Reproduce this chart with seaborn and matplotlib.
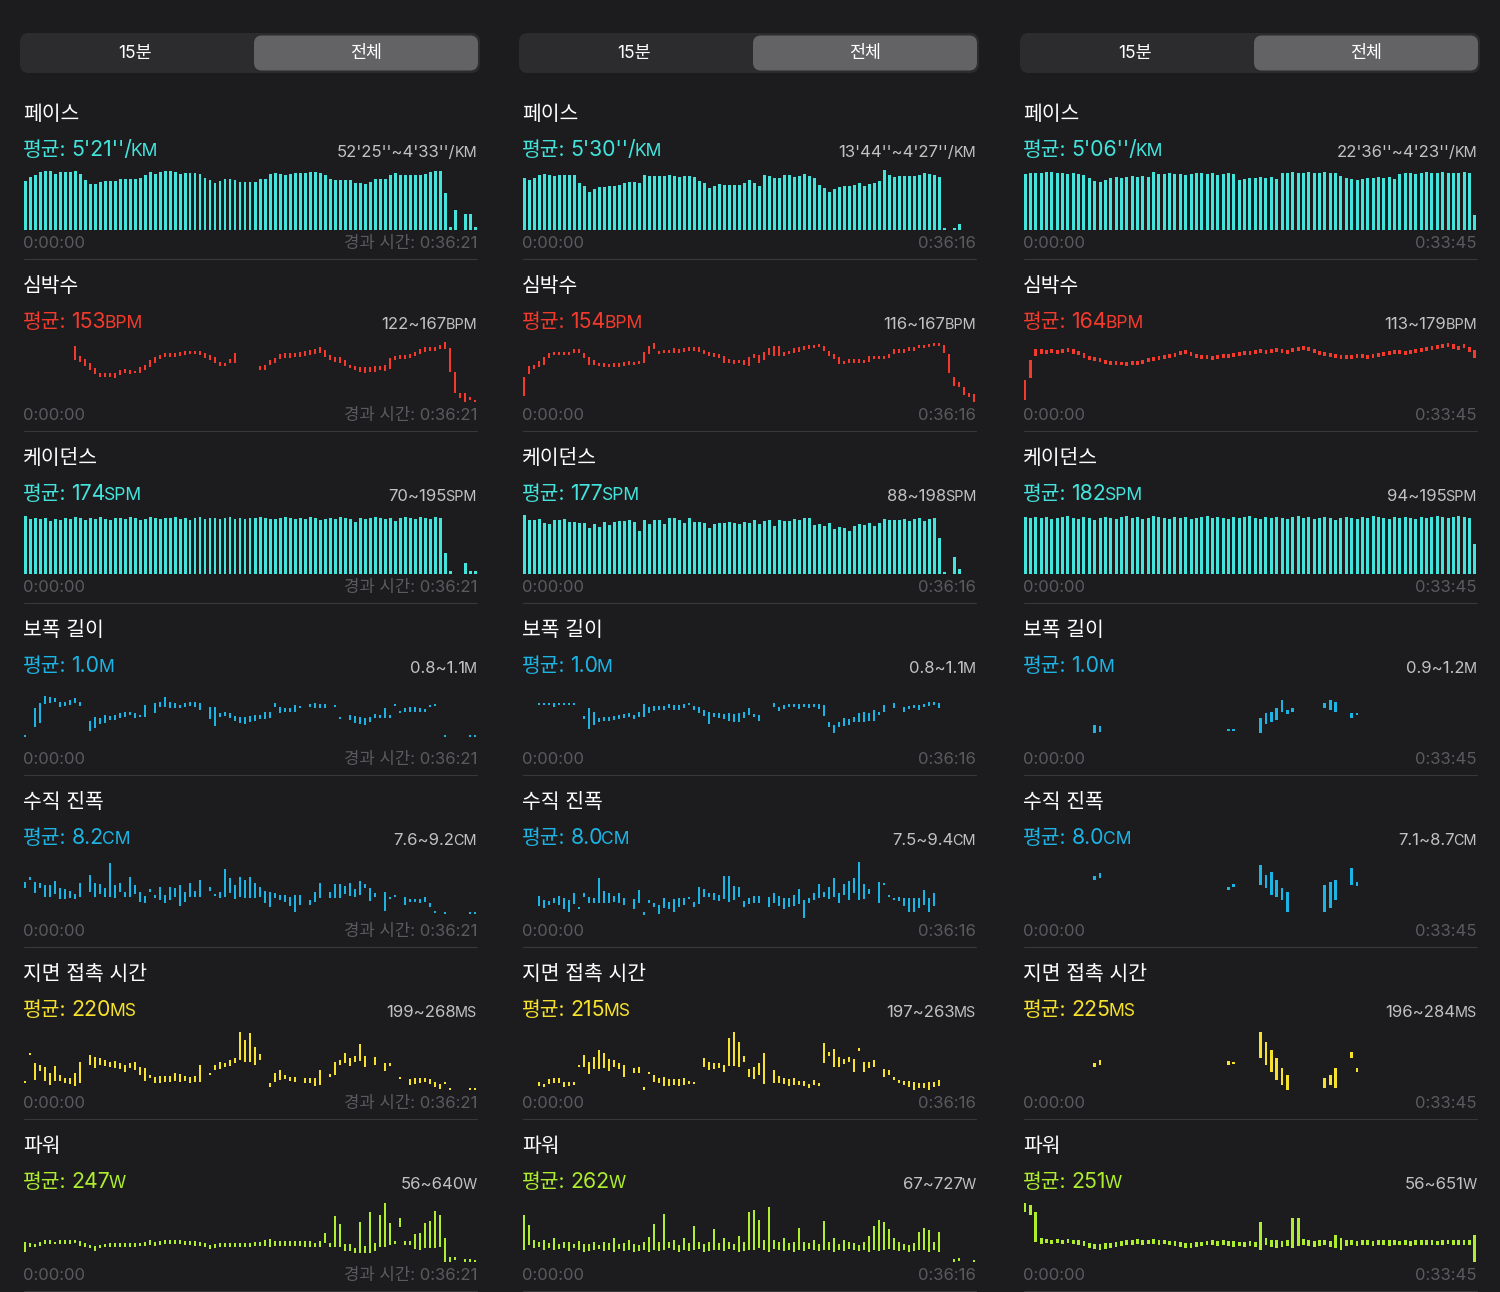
import matplotlib
matplotlib.use("Agg")
import matplotlib.pyplot as plt
import pandas as pd
import seaborn as sns
from matplotlib.patches import FancyBboxPatch

# ---------------- data (bar heights / ranges, relative chart units, 0 = baseline) -------------
METRICS = ["페이스", "심박수", "케이던스", "보폭 길이", "수직 진폭", "지면 접촉 시간", "파워"]
UNITS = ["KM", "BPM", "SPM", "M", "CM", "MS", "W"]
AVG_1 = ["5'21''/", "153", "174", "1.0", "8.2", "220", "247"]
AVG_2 = ["5'30''/", "154", "177", "1.0", "8.0", "215", "262"]
AVG_3 = ["5'06''/", "164", "182", "1.0", "8.0", "225", "251"]
RANGE_1 = ["52'25''~4'33''/", "122~167", "70~195", "0.8~1.1", "7.6~9.2", "199~268", "56~640"]
RANGE_2 = ["13'44''~4'27''/", "116~167", "88~198", "0.8~1.1", "7.5~9.4", "197~263", "67~727"]
RANGE_3 = ["22'36''~4'23''/", "113~179", "94~195", "0.9~1.2", "7.1~8.7", "196~284", "56~651"]
END_LABELS = ["경과 시간: 0:36:21", "0:36:16", "0:33:45"]
START_LABEL = "0:00:00"
AVG_LABEL = "평균:"
TABS = ["15분", "전체"]
N_SLOTS = [91, 91, 85]

PACE_1 = [49,53,55,58,59,59,56,58,58,58, 59,56,50,46,46,48,49,49,49,51, 51,51,51,52,55,58,56,58,59,59,
          58,56,57,57,57,56,52,50,47,49, 51,51,50,48,48,48,48,51,51,56, 57,56,55,56,57,57,57,58,58,57,
          55,51,50,50,50,50,47,47,46,48, 51,51,51,55,57,55,55,55,55,55, 56,58,59,59,37,3,20,None,16,16,3]
PACE_2 = [52,50,52,55,56,55,54,55,55,55, 55,47,44,38,41,43,43,44,44,45, 47,48,48,47,55,54,54,54,54,55,
          54,53,54,54,53,49,47,42,44,46, 45,45,45,45,47,50,47,44,55,54, 52,52,55,55,53,54,56,54,52,45,
          42,38,41,43,44,44,45,47,44,46, 47,49,60,55,53,54,54,54,54,55, 57,56,55,53,2,None,2,6]
PACE_3 = [56,57,57,57,58,58,57,57,56,57, 56,55,52,49,48,50,52,53,52,53, 54,53,54,53,58,56,56,57,56,56,
          55,56,57,57,56,57,55,56,57,56, 50,51,52,52,53,52,53,51,57,57, 58,57,57,58,57,57,58,57,57,54,
          52,51,50,51,52,52,53,52,53,51, 56,57,57,56,57,58,57,57,58,57, 57,57,58,57,15]

CAD_1 = [58,55,56,55,56,53,55,54,56,55, 57,56,54,56,55,57,55,54,56,56, 55,57,56,54,55,57,56,55,56,56,
         57,55,56,54,56,57,55,56,56,55, 56,57,55,56,55,56,56,57,56,55, 55,56,57,56,55,56,55,57,56,54,
         55,56,55,57,56,55,52,56,55,56, 57,56,55,56,53,56,57,56,55,57, 56,55,57,56,21,3,None,None,11,3,3]
CAD_2 = [59,54,54,55,51,50,54,54,55,52, 52,51,51,46,50,47,52,49,52,53, 53,54,52,43,54,50,54,54,50,56,
         56,54,51,56,52,52,51,46,50,51, 51,52,51,50,52,51,54,50,53,54, 48,54,53,53,55,54,56,56,49,50,
         48,51,45,47,46,43,48,50,49,51, 48,51,55,54,54,54,55,53,55,56, 53,55,56,36,2,None,17,5]
CAD_3 = [57,56,57,56,57,55,56,57,58,56, 55,57,56,54,56,57,56,55,57,58, 56,57,55,56,58,57,56,55,57,56,
         57,55,56,57,58,56,57,56,55,57, 56,57,58,56,55,57,56,57,56,55, 57,58,56,57,55,56,57,56,54,56,
         57,56,55,57,56,58,57,56,55,57, 56,57,56,55,57,56,57,58,57,56, 57,58,57,56,30]

# range bars: (slot, low, high)
HR_1 = [(10,42,56),(11,40,46),(12,36,43),(13,32,39),(14,28,34),(15,25,29),(16,25,29),(17,25,29),(18,24,29),
        (19,27,32),(20,29,33),(21,28,32),(22,29,31),(23,29,35),(24,32,37),(25,35,42),(26,39,45),(27,43,47),
        (28,45,49),(29,45,49),(30,45,49),(31,46,50),(32,47,51),(33,48,51),(34,48,51),(35,47,51),(36,44,49),
        (37,42,47),(38,39,45),(39,36,40),(40,36,39),(41,39,43),(42,39,49),
        (47,32,36),(48,32,37),(49,37,42),(50,39,44),(51,43,48),(52,44,49),(53,44,49),(54,45,49),(55,45,50),
        (56,46,51),(57,47,52),(58,48,53),(59,49,55),(60,45,52),(61,42,47),(62,40,45),(63,39,45),(64,36,42),
        (65,34,37),(66,32,36),(67,30,35),(68,29,35),(69,30,35),(70,30,36),(71,32,36),(72,31,37),(73,33,44),
        (74,42,46),(75,43,47),(76,43,47),(77,44,48),(78,46,50),(79,48,53),(80,50,55),(81,51,55),(82,51,55),
        (83,53,57),(84,53,60),(85,30,54),(86,9,30),(87,4,9),(88,0,9),(89,2,5),(90,0,2)]
HR_2 = [(0,6,25),(1,28,36),(2,33,37),(3,35,41),(4,37,45),(5,44,49),(6,47,50),(7,47,50),(8,47,50),(9,47,50),
        (10,49,53),(11,49,53),(12,44,49),(13,37,45),(14,37,42),(15,36,39),(16,35,39),(17,35,38),(18,35,39),
        (19,35,39),(20,36,40),(21,37,41),(22,37,40),(23,38,41),(24,39,50),(25,48,56),(26,53,59),(27,48,51),
        (28,49,52),(29,49,52),(30,49,54),(31,49,53),(32,50,54),(33,51,55),(34,51,55),(35,50,55),(36,48,52),
        (37,46,50),(38,45,49),(39,44,48),(40,39,46),(41,39,43),(42,38,42),(43,39,42),(44,37,42),(45,36,45),
        (46,44,48),(47,39,47),(48,42,50),(49,47,54),(50,46,56),(51,46,56),(52,46,50),(53,48,51),(54,49,54),
        (55,50,55),(56,52,56),(57,53,57),(58,54,57),(59,55,58),(60,51,56),(61,46,51),(62,43,48),(63,38,45),
        (64,38,41),(65,39,43),(66,39,43),(67,39,43),(68,39,42),(69,40,46),(70,43,46),(71,43,46),(72,43,46),
        (73,44,48),(74,48,53),(75,49,53),(76,49,53),(77,51,55),(78,51,55),(79,54,57),(80,54,57),(81,55,58),
        (82,56,59),(83,56,59),(84,49,57),(85,29,48),(86,16,25),(87,15,20),(88,7,15),(89,5,9),(90,0,8)]
HR_3 = [(0,2,22),(1,24,42),(2,46,53),(3,48,53),(4,48,52),(5,49,53),(6,48,52),(7,49,53),(8,50,54),(9,48,53),
        (10,47,51),(11,44,49),(12,42,46),(13,41,45),(14,40,44),(15,38,42),(16,37,41),(17,37,41),(18,37,40),
        (19,36,40),(20,37,41),(21,37,41),(22,38,42),(23,40,44),(24,41,45),(25,42,46),(26,43,47),(27,44,48),
        (28,45,49),(29,47,51),(30,48,52),(31,46,50),(32,44,48),(33,43,47),(34,43,47),(35,42,46),(36,43,47),
        (37,44,48),(38,44,48),(39,45,49),(40,46,50),(41,47,51),(42,47,51),(43,48,52),(44,49,53),(45,48,52),
        (46,49,53),(47,50,54),(48,49,53),(49,48,52),(50,50,54),(51,51,55),(52,52,56),(53,51,55),(54,49,53),
        (55,47,51),(56,46,50),(57,45,49),(58,44,48),(59,43,47),(60,43,47),(61,43,47),(62,44,48),(63,44,48),
        (64,43,47),(65,44,48),(66,45,49),(67,46,50),(68,47,51),(69,48,52),(70,48,52),(71,47,51),(72,48,52),
        (73,49,53),(74,50,54),(75,51,55),(76,52,56),(77,53,57),(78,54,58),(79,55,59),(80,53,58),(81,52,56),
        (82,54,58),(83,50,55),(84,44,52)]

STRIDE_1 = [(0,9,11),(2,19,38),(3,23,43),(4,42,50),(5,43,49),(6,44,48),(7,39,44),(8,40,44),(9,41,46),(10,43,48),
            (11,40,44),(13,15,25),(14,18,29),(15,22,28),(16,23,31),(17,26,30),(18,26,31),(19,28,33),(20,29,34),
            (21,31,34),(22,28,33),(23,29,31),(24,29,41),(26,33,43),(27,39,44),(28,39,49),(29,38,44),(30,38,43),
            (31,38,41),(32,39,43),(33,40,44),(34,39,44),(35,36,43),(37,27,39),(38,20,39),(39,29,33),(40,30,34),
            (41,28,33),(42,25,30),(43,23,29),(44,22,29),(45,24,30),(46,25,31),(47,27,31),(48,27,34),(49,28,34),
            (50,39,43),(51,33,39),(52,34,38),(53,34,38),(54,34,41),(55,38,40),(57,39,42),(58,38,43),(59,38,42),
            (60,38,42),(62,39,41),(63,27,29),(65,26,31),(66,23,30),(67,22,29),(68,21,28),(69,24,29),(70,28,32),
            (71,28,31),(72,28,38),(73,28,31),(74,40,42),(75,33,35),(76,34,38),(77,34,39),(78,34,39),(79,34,38),
            (80,34,37),(81,39,41),(82,40,42),(84,9,11),(89,9,11),(90,9,11)]
STRIDE_2 = [(3,41,43),(4,41,43),(5,41,43),(6,39,43),(7,41,43),(8,41,43),(9,41,43),(10,41,43),(12,27,30),(13,17,38),
            (14,21,34),(15,24,28),(16,25,29),(17,25,29),(18,26,30),(19,27,31),(20,28,32),(21,29,33),(22,27,31),
            (23,29,34),(24,29,42),(25,33,39),(26,35,40),(27,36,40),(28,36,40),(29,38,42),(30,36,41),(31,36,41),
            (32,38,42),(33,41,43),(34,36,40),(35,33,39),(36,30,36),(37,22,34),(38,29,33),(39,28,33),(40,27,32),
            (41,25,33),(42,24,32),(43,24,33),(44,28,34),(45,31,38),(46,29,32),(47,25,31),(50,39,43),(51,35,39),
            (52,37,41),(53,39,42),(54,39,42),(55,37,42),(56,39,42),(57,38,42),(58,39,42),(59,37,42),(60,30,41),
            (61,19,24),(62,13,21),(63,19,24),(64,20,28),(65,21,27),(66,24,29),(67,24,33),(68,24,34),(69,25,33),
            (70,25,36),(71,31,34),(72,34,41),(74,38,43),(76,34,39),(77,37,40),(78,38,41),(79,36,41),(80,39,42),
            (81,40,44),(82,41,44),(83,38,43)]
STRIDE_3 = [(13,13,21),(14,14,20),(38,15,17),(39,15,17),(44,13,28),(45,22,33),(46,24,34),(47,26,38),(48,34,46),
            (49,32,36),(50,34,38),(56,38,43),(57,36,46),(58,34,44),(61,28,33),(62,31,33)]

VERT_1 = [(0,30,36),(1,38,41),(2,25,36),(3,30,35),(4,21,33),(5,21,33),(6,24,37),(7,19,30),(8,19,29),(9,20,27),
          (10,19,24),(11,21,35),(13,26,43),(14,21,35),(15,24,34),(16,21,30),(17,21,55),(18,20,33),(19,26,35),
          (20,21,26),(21,21,41),(22,24,33),(23,16,26),(24,15,22),(25,26,29),(26,20,23),(27,18,31),(28,15,23),
          (29,18,31),(30,21,30),(31,12,33),(32,16,26),(33,21,35),(34,21,27),(35,21,38),(37,27,31),(38,22,24),
          (39,20,26),(40,21,49),(41,25,40),(42,19,33),(43,21,41),(44,20,38),(45,20,41),(46,20,35),(47,21,31),
          (48,15,27),(49,11,26),(50,20,25),(51,18,23),(52,16,23),(53,12,21),(54,6,23),(55,13,23),(57,13,18),
          (58,16,26),(59,20,35),(61,20,26),(62,20,34),(63,20,34),(64,24,32),(65,22,35),(66,21,29),(67,23,37),
          (68,30,34),(69,17,30),(70,21,25),(72,7,26),(73,19,21),(74,21,22),(76,13,21),(77,16,19),(78,16,19),
          (79,15,19),(80,16,21),(81,11,15),(82,5,7),(84,4,6),(89,4,6),(90,4,6)]
VERT_2 = [(3,12,22),(4,10,18),(5,13,17),(6,15,20),(7,13,22),(8,9,20),(9,6,18),(10,14,25),(11,9,11),(12,21,25),
          (13,15,21),(14,15,20),(15,15,40),(16,15,27),(17,15,25),(18,16,22),(19,15,25),(20,13,20),(22,9,19),
          (23,15,28),(24,3,6),(25,15,18),(26,11,15),(27,4,13),(28,10,20),(29,9,16),(30,6,19),(31,11,20),
          (32,13,20),(33,19,21),(34,11,16),(35,14,31),(36,21,29),(37,21,25),(38,18,25),(39,17,23),(40,19,42),
          (41,16,42),(42,18,32),(43,21,31),(44,11,17),(45,14,20),(46,15,22),(47,15,22),(49,11,21),(50,15,25),
          (51,12,22),(52,9,20),(53,11,20),(54,12,23),(55,14,29),(56,0,18),(57,15,20),(58,18,25),(59,20,34),
          (60,21,26),(61,19,31),(62,21,40),(63,15,25),(64,23,34),(65,18,37),(66,25,40),(67,18,56),(68,19,34),
          (69,24,29),(71,15,36),(72,33,35),(73,21,22),(74,18,20),(75,17,21),(76,12,20),(77,6,20),(78,6,20),
          (79,10,20),(80,13,28),(81,6,20),(82,12,25)]
VERT_3 = [(13,38,42),(14,40,45),(38,28,31),(39,31,34),(44,33,53),(45,30,43),(46,23,46),(47,21,38),(48,18,30),
          (49,6,26),(56,6,33),(57,10,36),(58,18,38),(61,33,50),(62,32,36)]

GCT_1 = [(0,7,9),(1,35,37),(2,10,27),(3,19,25),(4,9,23),(5,5,17),(6,9,24),(7,9,15),(8,7,12),(9,6,12),(10,4,17),
         (11,7,28),(13,25,35),(14,22,33),(15,25,32),(16,24,30),(17,23,28),(18,22,29),(19,21,27),(20,18,25),
         (21,22,27),(22,20,28),(23,15,23),(24,9,22),(25,12,15),(26,7,13),(27,7,14),(28,8,14),(29,8,14),
         (30,9,17),(31,8,16),(32,9,14),(33,7,13),(34,8,14),(35,8,25),(37,15,17),(38,20,25),(39,21,28),
         (40,23,27),(41,24,30),(42,27,32),(43,30,58),(44,28,50),(45,28,57),(46,25,43),(47,30,36),(49,3,7),
         (50,8,17),(51,10,20),(52,11,15),(53,9,13),(54,8,13),(56,7,12),(57,7,12),(58,4,12),(59,5,20),
         (61,13,16),(62,15,28),(63,25,30),(64,27,37),(65,24,32),(66,28,34),(67,29,46),(68,23,34),(70,25,33),
         (72,19,27),(73,24,27),(75,11,13),(77,5,11),(78,6,12),(79,7,12),(80,8,12),(81,6,11),(82,3,8),
         (83,1,6),(84,6,8),(85,0,2),(89,0,2),(90,0,2)]
GCT_2 = [(3,4,8),(4,3,6),(5,6,11),(6,7,12),(7,7,12),(8,3,8),(9,4,8),(10,5,8),(11,23,25),(12,23,35),(13,16,28),
         (14,21,33),(15,21,40),(16,22,37),(17,19,31),(18,23,30),(19,21,27),(20,13,25),(22,17,22),(23,17,23),
         (24,0,3),(25,16,18),(26,8,15),(27,7,12),(28,4,13),(29,4,11),(30,5,11),(31,4,11),(32,5,12),(33,6,9),
         (34,6,8),(36,23,32),(37,20,28),(38,21,27),(39,22,27),(40,18,25),(41,24,52),(42,24,58),(43,23,48),
         (44,28,34),(45,13,21),(46,11,23),(47,15,27),(48,6,37),(50,7,20),(51,7,14),(52,6,12),(53,4,11),
         (54,5,12),(55,5,9),(56,4,9),(57,2,6),(58,5,10),(59,4,7),(60,27,47),(61,34,38),(62,23,41),(63,23,33),
         (64,26,31),(65,28,33),(66,18,31),(67,39,42),(68,18,28),(69,22,28),(70,23,30),(72,13,21),(73,15,20),
         (74,10,13),(75,7,10),(76,5,9),(77,3,9),(78,0,8),(79,2,7),(80,2,7),(81,0,8),(82,3,8),(83,4,10)]
GCT_3 = [(13,23,27),(14,25,30),(38,25,29),(39,26,28),(44,32,58),(45,25,48),(46,18,40),(47,10,32),(48,5,22),
         (49,0,15),(56,2,12),(57,5,15),(58,2,22),(61,32,38),(62,18,22)]

POWER_1 = [(0,10,20),(1,15,19),(2,15,18),(3,16,20),(4,18,22),(5,18,22),(6,18,20),(7,18,22),(8,18,22),(9,18,22),
           (10,19,22),(11,16,21),(12,15,19),(13,14,17),(14,11,16),(15,14,17),(16,15,18),(17,15,19),(18,15,19),
           (19,15,19),(20,15,19),(21,15,19),(22,15,19),(23,16,19),(24,16,20),(25,17,22),(26,16,20),(27,17,21),
           (28,18,22),(29,18,22),(30,18,22),(31,18,22),(32,17,21),(33,17,21),(34,16,21),(35,16,20),(36,15,19),
           (37,13,17),(38,14,18),(39,15,19),(40,15,19),(41,15,19),(42,15,19),(43,15,19),(44,15,19),(45,15,19),
           (46,16,20),(47,16,20),(48,16,22),(49,15,23),(50,16,21),(51,16,21),(52,16,21),(53,16,21),(54,16,21),
           (55,16,21),(56,15,21),(57,15,21),(58,15,19),(59,15,21),(60,19,29),(61,15,19),(62,15,46),(63,15,38),
           (64,11,18),(65,11,18),(66,9,14),(67,9,40),(68,9,16),(69,9,50),(70,11,19),(71,15,47),(72,15,59),
           (73,17,39),(74,18,21),(75,35,44),(76,17,21),(77,17,21),(78,13,28),(79,12,29),(80,14,39),(81,14,41),
           (82,14,51),(83,15,47),(84,0,24),(85,0,5),(86,2,5),(88,0,3),(89,0,3),(90,0,2)]
POWER_2 = [(0,12,47),(1,17,37),(2,14,22),(3,15,20),(4,12,22),(5,14,19),(6,12,24),(7,13,18),(8,14,20),(9,11,20),
           (10,14,18),(11,12,21),(12,10,18),(13,11,18),(14,12,20),(15,13,17),(16,11,20),(17,12,19),(18,10,24),
           (19,13,18),(20,11,19),(21,12,22),(22,10,18),(23,11,17),(24,12,20),(25,10,25),(26,12,38),(27,11,20),
           (28,12,48),(29,14,20),(30,12,22),(31,10,17),(32,12,24),(33,11,19),(34,12,36),(35,13,20),(36,10,18),
           (37,11,20),(38,12,33),(39,12,19),(40,11,24),(41,13,20),(42,12,18),(43,10,26),(44,11,20),(45,12,50),
           (46,12,52),(47,14,42),(48,12,22),(49,10,55),(50,13,22),(51,12,20),(52,11,24),(53,12,19),(54,10,20),
           (55,12,34),(56,11,20),(57,13,19),(58,12,22),(59,11,18),(60,12,41),(61,12,20),(62,10,24),(63,12,18),
           (64,11,22),(65,13,20),(66,12,19),(67,11,17),(68,12,20),(69,10,26),(70,12,36),(71,11,42),(72,12,40),
           (73,13,33),(74,12,24),(75,11,20),(76,12,18),(77,10,17),(78,11,19),(79,12,30),(80,12,34),(81,10,32),
           (82,12,20),(83,10,30),(86,0,3),(87,1,4),(90,0,2)]
POWER_3 = [(0,50,59),(1,47,57),(2,20,50),(3,18,24),(4,19,23),(5,18,22),(6,19,23),(7,18,22),(8,19,23),(9,18,22),
           (10,17,22),(11,16,21),(12,14,19),(13,13,18),(14,12,18),(15,13,19),(16,14,19),(17,15,20),(18,16,21),
           (19,17,22),(20,17,22),(21,18,23),(22,17,22),(23,18,22),(24,18,23),(25,17,22),(26,18,22),(27,17,21),
           (28,16,21),(29,15,20),(30,14,19),(31,14,19),(32,15,20),(33,16,20),(34,17,21),(35,17,22),(36,16,21),
           (37,17,22),(38,16,21),(39,15,21),(40,16,20),(41,15,20),(42,16,21),(43,15,20),(44,12,40),(45,17,24),
           (46,15,22),(47,14,22),(48,15,21),(49,16,22),(50,14,44),(51,16,44),(52,17,23),(53,16,22),(54,15,21),
           (55,16,22),(56,17,22),(57,15,21),(58,14,27),(59,12,24),(60,16,22),(61,17,22),(62,16,21),(63,17,22),
           (64,17,22),(65,16,21),(66,17,22),(67,17,22),(68,16,22),(69,17,22),(70,17,21),(71,17,22),(72,16,21),
           (73,17,22),(74,17,22),(75,17,22),(76,17,22),(77,17,21),(78,17,22),(79,18,22),(80,17,22),(81,17,22),
           (82,17,22),(83,17,22),(84,0,27)]

# ---------------- style -------------------------------------------------------------------------
W, H = 1500, 1292
BG = "#1c1c1e"
SEG_BG = "#2c2c2e"
SEG_SEL = "#636366"
SEP = "#38383a"
GRAY = "#5b5b5f"
RANGE_GRAY = "#c2c2c4"
CYAN = "#42e4dc"
RED = "#f43a2c"
BLUE = "#1cb4e4"
YELLOW = "#f6e22c"
LIME = "#aeee2e"
ROW_COLORS = [CYAN, RED, CYAN, BLUE, BLUE, YELLOW, LIME]
COL_OFF = [0, 499, 1000]
ROW_H = 172
CHART_W = 454

sns.set_theme(style="dark", rc={"axes.facecolor": BG, "figure.facecolor": BG})
plt.rcParams["font.family"] = ["Inter", "Noto Sans CJK KR", "DejaVu Sans"]

fig = plt.figure(figsize=(W / 100, H / 100), dpi=100)
fig.patch.set_facecolor(BG)
base = fig.add_axes([0, 0, 1, 1])
base.set_xlim(0, W)
base.set_ylim(H, 0)
base.set_axis_off()
renderer = fig.canvas.get_renderer()


def rich(parts, x, y, halign, gaps):
    """Draw consecutive text pieces on one baseline; halign 0 = left from x, 1 = right ending at x.
    gaps[k] = extra pixels inserted after piece k (in drawing order)."""
    cx = x
    seq = parts if halign == 0 else list(reversed(parts))
    for k, (t, c, s) in enumerate(seq):
        tx = base.text(cx, y, t, ha="left" if halign == 0 else "right", va="baseline",
                       color=c, fontsize=s)
        wpx = tx.get_window_extent(renderer).width
        if halign == 0:
            cx += wpx + gaps[k]
        else:
            cx -= wpx + gaps[k]


def finish(ax, n):
    ax.set_xlim(-0.2, n - 0.4)
    ax.set_ylim(0, 64)
    ax.set_axis_off()
    ax.patch.set_alpha(0)
    for p in ax.patches:
        p.set_clip_on(False)
        p.set_snap(True)


def draw_heights(ax, heights, color, n):
    ppu = CHART_W / (n - 0.2)
    df = pd.DataFrame({"slot": range(len(heights)), "h": heights}).dropna()
    df["h"] = df["h"].clip(lower=1.8)
    sns.barplot(data=df, x="slot", y="h", native_scale=True, width=3.0 / ppu, color=color,
                saturation=1, errorbar=None, linewidth=0, ax=ax)
    finish(ax, n)


def draw_ranges(ax, triples, color, n):
    ppu = CHART_W / (n - 0.2)
    xs = [t[0] for t in triples]
    lo = [t[1] for t in triples]
    hh = [max(t[2] - t[1], 1.8) for t in triples]
    ax.bar(xs, hh, bottom=lo, width=2.8 / ppu, color=color, linewidth=0)
    finish(ax, n)


COLUMNS = [
    (AVG_1, RANGE_1, [PACE_1, HR_1, CAD_1, STRIDE_1, VERT_1, GCT_1, POWER_1]),
    (AVG_2, RANGE_2, [PACE_2, HR_2, CAD_2, STRIDE_2, VERT_2, GCT_2, POWER_2]),
    (AVG_3, RANGE_3, [PACE_3, HR_3, CAD_3, STRIDE_3, VERT_3, GCT_3, POWER_3]),
]

for c, (avgs, ranges, series) in enumerate(COLUMNS):
    off = COL_OFF[c]
    n = N_SLOTS[c]
    # segmented control
    base.add_patch(FancyBboxPatch((20 + off, 33), 460, 40, boxstyle="round,pad=0,rounding_size=9",
                                  fc=SEG_BG, ec="none"))
    base.add_patch(FancyBboxPatch((254 + off, 35.5), 224, 35, boxstyle="round,pad=0,rounding_size=8",
                                  fc=SEG_SEL, ec="none"))
    base.text(135 + off, 53.5, TABS[0], ha="center", va="center", color="white", fontsize=12.5)
    base.text(366 + off, 53.5, TABS[1], ha="center", va="center", color="white", fontsize=12.5)

    for r in range(7):
        y0 = ROW_H * r
        col = ROW_COLORS[r]
        base.text(23 + off, 120 + y0, METRICS[r], ha="left", va="baseline", color="white", fontsize=14.7)
        rich([(AVG_LABEL, col, 14.7), (avgs[r], col, 15.3), (UNITS[r], col, 12.6)],
             23 + off, 156 + y0, 0, gaps=[5, -1.5, 0])
        rich([(ranges[r], RANGE_GRAY, 12), (UNITS[r], RANGE_GRAY, 10.4)], 477 + off, 157 + y0, 1,
             gaps=[-1, 0])
        base.text(23 + off, 248 + y0, START_LABEL, ha="left", va="baseline", color=GRAY, fontsize=12)
        base.text(477 + off, 248 + y0, END_LABELS[c], ha="right", va="baseline", color=GRAY, fontsize=12)
        base.plot([24 + off, 477 + off], [258.5 + y0, 258.5 + y0], color=SEP, lw=0.8)

        ax = fig.add_axes([(24 + off) / W, 1 - (230 + y0) / H, CHART_W / W, 64 / H])
        data = series[r]
        if r in (0, 2):
            draw_heights(ax, data, col, n)
        else:
            draw_ranges(ax, data, col, n)

fig.savefig("out.png", dpi=100, facecolor=BG)
